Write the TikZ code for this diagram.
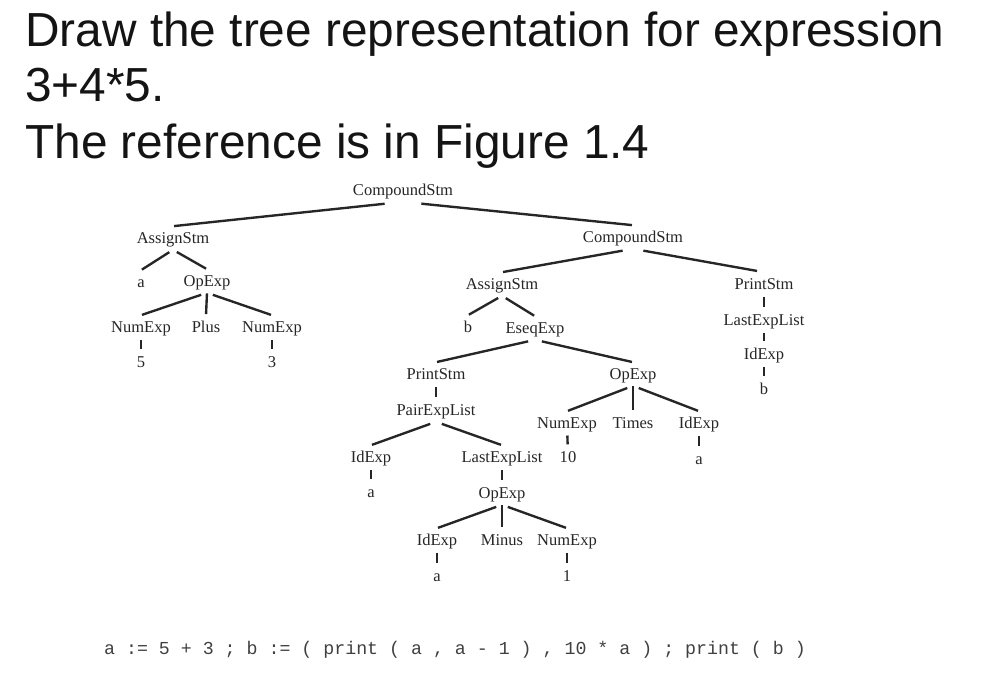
\documentclass[tikz,border=0pt]{standalone}
\usepackage{fontspec}
\setmainfont{Liberation Sans}
\newfontfamily\trfamily{Liberation Serif}
\newfontfamily\codefamily{Liberation Mono}
\newcommand\treefont{\trfamily\fontsize{9.4pt}{11pt}\selectfont}
\newcommand\titlefont{\fontsize{27.2pt}{31pt}\selectfont}
\newcommand\codefont{\codefamily\fontsize{10.4pt}{12pt}\selectfont}
\begin{document}
\begin{tikzpicture}[x=0.02cm,y=-0.02cm,
  tn/.style={font=\treefont, text=black!85, inner sep=1.5pt, text height=1.55ex, text depth=0.35ex},
  ed/.style={line width=1.35pt, draw=black!85, shorten <=3.5pt, shorten >=0.6pt},
  tick/.style={line width=1.35pt, draw=black!85, shorten <=0.4pt, shorten >=0.5pt},
  ttl/.style={font=\titlefont, text=black!92, anchor=base west, inner sep=0pt}]
\useasboundingbox (0,0) rectangle (1004,686);
% title
\node[ttl] (t1) at (25,47) {Draw the tree representation for expression};
\node[ttl] (t2) at (25,102) {3+4*5.};
\node[ttl] (t3) at (25,158) {The reference is in Figure 1.4};
% tree nodes
\node[tn] (cs1) at (403,190) {CompoundStm};
\node[tn] (as1) at (173,238) {AssignStm};
\node[tn] (a1) at (141,282) {a};
\node[tn] (op1) at (207,281) {OpExp};
\node[tn] (ne1) at (141,327) {NumExp};
\node[tn] (plus) at (206,327) {Plus};
\node[tn] (ne2) at (272,327) {NumExp};
\node[tn] (n5) at (141,362) {5};
\node[tn] (n3) at (272,362) {3};
\node[tn] (cs2) at (633,237) {CompoundStm};
\node[tn] (as2) at (502,284) {AssignStm};
\node[tn] (b1) at (468,327) {b};
\node[tn] (eseq) at (535,328) {EseqExp};
\node[tn] (ps2) at (764,284) {PrintStm};
\node[tn] (lel2) at (764,320) {LastExpList};
\node[tn] (id2) at (764,354) {IdExp};
\node[tn] (b2) at (764,389) {b};
\node[tn] (ps1) at (436,374) {PrintStm};
\node[tn] (pel) at (436,410) {PairExpList};
\node[tn] (ida) at (371,457) {IdExp};
\node[tn] (aa) at (371,492) {a};
\node[tn] (lel1) at (502,457) {LastExpList};
\node[tn] (op3) at (502,493) {OpExp};
\node[tn] (idb) at (437,540) {IdExp};
\node[tn] (minus) at (502,540) {Minus};
\node[tn] (ne3) at (567,540) {NumExp};
\node[tn] (ab) at (437,576) {a};
\node[tn] (n1) at (567,576) {1};
\node[tn] (op2) at (633,374) {OpExp};
\node[tn] (ne4) at (567,423) {NumExp};
\node[tn] (times) at (633,423) {Times};
\node[tn] (idc) at (699,423) {IdExp};
\node[tn] (n10) at (568,457) {10};
\node[tn] (ac) at (699,459) {a};
% edges
\draw[ed, shorten <=10.5pt] (cs1.south) -- (as1.north);
\draw[ed, shorten <=10.5pt] (cs1.south) -- (cs2.north);
\draw[ed, shorten <=2.5pt] (as1.south) -- (a1.north);
\draw[ed, shorten <=2.5pt] (as1.south) -- (op1.north);
\draw[ed] (op1.south) -- (ne1.north);
\draw[ed, shorten <=0.3pt] (op1.south) -- (plus.north);
\draw[ed] (op1.south) -- (ne2.north);
\draw[tick] (ne1) -- (n5);
\draw[tick] (ne2) -- (n3);
\draw[ed, shorten <=6pt] (cs2.south) -- (as2.north);
\draw[ed, shorten <=6pt, shorten >=4pt] (cs2.south) -- (ps2.north);
\draw[tick] (ps2) -- (lel2);
\draw[tick] (lel2) -- (id2);
\draw[tick] (id2) -- (b2);
\draw[ed, shorten <=2.5pt] (as2.south) -- (b1.north);
\draw[ed, shorten <=2.5pt] (as2.south) -- (eseq.north);
\draw[ed, shorten <=4pt] (eseq.south) -- (ps1.north);
\draw[ed, shorten <=4pt] (eseq.south) -- (op2.north);
\draw[tick] (ps1) -- (pel);
\draw[ed] (pel.south) -- (ida.north);
\draw[ed] (pel.south) -- (lel1.north);
\draw[tick] (ida) -- (aa);
\draw[tick] (lel1) -- (op3);
\draw[ed] (op3.south) -- (idb.north);
\draw[ed, shorten <=0.3pt] (op3.south) -- (minus.north);
\draw[ed] (op3.south) -- (ne3.north);
\draw[tick] (idb) -- (ab);
\draw[tick] (ne3) -- (n1);
\draw[ed] (op2.south) -- (ne4.north);
\draw[ed, shorten <=0.3pt] (op2.south) -- (times.north);
\draw[ed] (op2.south) -- (idc.north);
\draw[tick] (ne4) -- (n10);
\draw[tick] (idc) -- (ac);
% code line
\node[font=\codefont, text=black!75, anchor=base, inner sep=0pt] (code) at (455,654) {a := 5 + 3 ; b := ( print ( a , a - 1 ) , 10 * a ) ; print ( b )};
\end{tikzpicture}
\end{document}
